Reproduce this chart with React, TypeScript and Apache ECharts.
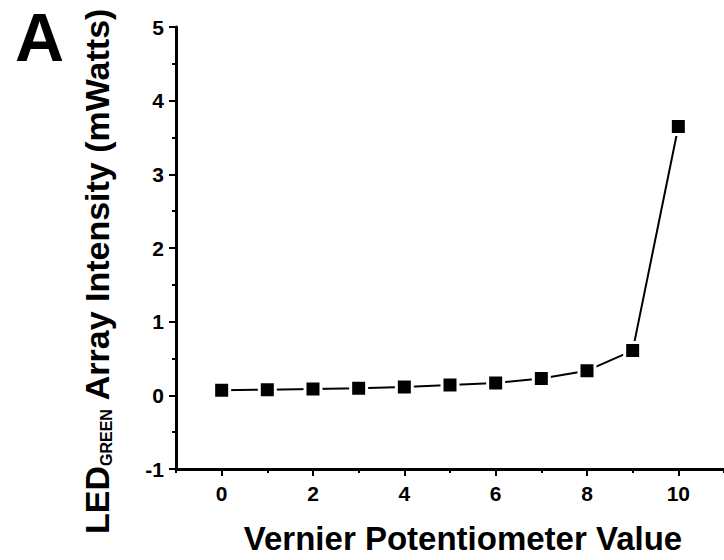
import React, { useEffect, useRef } from "react";
import * as echarts from "echarts";

const xValues = [0, 1, 2, 3, 4, 5, 6, 7, 8, 9, 10];
const yValues = [0.068, 0.077, 0.087, 0.095, 0.114, 0.141, 0.168, 0.23, 0.335, 0.607, 3.65];
const xMajorTicks = [0, 2, 4, 6, 8, 10];
const xMinorTicks = [-1, 1, 3, 5, 7, 9, 11];
const panelLabel = "A";
const xTitle = "Vernier Potentiometer Value";

const FONT = '"Liberation Sans", Arial, sans-serif';

export default function App() {
  const ref = useRef<HTMLDivElement>(null);
  useEffect(() => {
    if (!ref.current) return;
    const chart = echarts.init(ref.current, undefined, { renderer: "svg" });
    const data = xValues.map((x, i) => [x, yValues[i]]);
    const axisLabelStyle = {
      color: "#000",
      fontSize: 21,
      fontWeight: "bold" as const,
      fontFamily: FONT,
    };
    chart.setOption({
      animation: false,
      backgroundColor: "#fff",
      grid: { left: 176, right: 0, top: 27, bottom: 91, containLabel: false },
      xAxis: [
        {
          type: "value",
          min: -1,
          max: 11,
          position: "bottom",
          axisLine: { show: true, onZero: false, lineStyle: { color: "#000", width: 3 } },
          axisTick: {
            show: true,
            customValues: xMajorTicks,
            length: 7,
            lineStyle: { color: "#000", width: 2 },
          },
          axisLabel: {
            ...axisLabelStyle,
            customValues: xMajorTicks,
            margin: 14,
            formatter: (v: number) => String(v),
          },
          splitLine: { show: false },
        },
        {
          type: "value",
          min: -1,
          max: 11,
          position: "bottom",
          axisLine: { show: false, onZero: false },
          axisTick: {
            show: true,
            customValues: xMinorTicks,
            length: 4,
            lineStyle: { color: "#000", width: 2 },
          },
          axisLabel: { show: false },
          splitLine: { show: false },
        },
      ],
      yAxis: {
        type: "value",
        min: -1,
        max: 5,
        interval: 1,
        axisLine: { show: true, onZero: false, lineStyle: { color: "#000", width: 3 } },
        axisTick: { show: true, length: 7, lineStyle: { color: "#000", width: 2 } },
        minorTick: { show: true, splitNumber: 2, length: 4, lineStyle: { color: "#000", width: 2 } },
        axisLabel: { ...axisLabelStyle, margin: 12, formatter: (v: number) => String(v) },
        splitLine: { show: false },
        minorSplitLine: { show: false },
      },
      series: [
        {
          type: "line",
          xAxisIndex: 0,
          data,
          symbol: "rect",
          symbolSize: 16,
          lineStyle: { color: "#000", width: 2 },
          itemStyle: { color: "#000", borderColor: "#fff", borderWidth: 3 },
          clip: false,
        },
      ],
      graphic: [
        {
          type: "text",
          x: 15,
          y: 37,
          style: {
            text: panelLabel,
            font: `bold 68px ${FONT}`,
            fill: "#000",
            align: "left",
            verticalAlign: "middle",
          },
        },
        {
          type: "text",
          x: 463,
          y: 538,
          style: {
            text: xTitle,
            font: `bold 33px ${FONT}`,
            fill: "#000",
            align: "center",
            verticalAlign: "middle",
          },
        },
        {
          type: "text",
          x: 97,
          y: 271,
          rotation: Math.PI / 2,
          style: {
            text: "{a|LED}{b|GREEN}{a| Array Intensity (mWatts)}",
            align: "center",
            verticalAlign: "middle",
            fill: "#000",
            rich: {
              a: { font: `bold 34px ${FONT}`, fill: "#000", lineHeight: 34 },
              b: {
                font: `bold 16px ${FONT}`,
                fill: "#000",
                lineHeight: 16,
                verticalAlign: "bottom",
                padding: [38, 0, 0, 0],
              },
            },
          },
        },
      ],
    });
    return () => chart.dispose();
  }, []);
  return (
    <div
      ref={ref}
      style={{ position: "absolute", left: 0, top: 0, width: 724, height: 560 }}
    />
  );
}
